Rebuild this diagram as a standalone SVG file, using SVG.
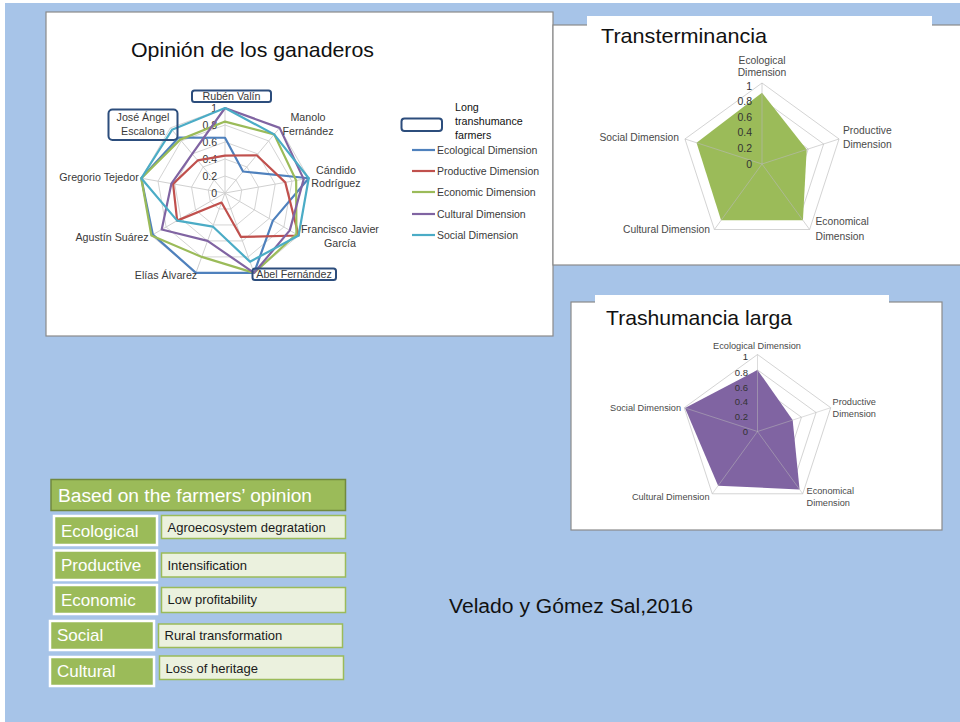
<svg xmlns="http://www.w3.org/2000/svg" width="960" height="722" viewBox="0 0 960 722">
<style>
.bg{fill:#a7c4e8}
.panel{fill:#fff;stroke:#8a8a8a;stroke-width:1.2}
.tab{fill:#fff}
.title{font-family:"Liberation Sans",Arial,sans-serif;font-size:21px;fill:#111}
.grid{fill:none;stroke:#d4d4d4;stroke-width:1}
.spoke{stroke:#d0d0d0;stroke-width:1}
.lbl{font-family:"Liberation Sans",Arial,sans-serif;font-size:10.7px;fill:#3a3a3a}
.lbs{font-family:"Liberation Sans",Arial,sans-serif;font-size:10.3px;fill:#4a4a4a}
.lbt{font-family:"Liberation Sans",Arial,sans-serif;font-size:9.2px;fill:#4a4a4a}
.tick{font-family:"Liberation Sans",Arial,sans-serif;font-size:10.5px;fill:#333;text-anchor:end}
.s{fill:none;stroke-width:2.2;stroke-linejoin:round}
.eco{stroke:#4f81bd}.pro{stroke:#c0504d}.ecn{stroke:#9bbb59}.cul{stroke:#8064a2}.soc{stroke:#4bacc6}
.nb{fill:none;stroke:#2c4d7c;stroke-width:2}
.mid{text-anchor:middle}.end{text-anchor:end}
.hdr{fill:#9bbb59;stroke:#71893f;stroke-width:1.5}
.cat{fill:#9bbb59;stroke:#fff;stroke-width:2.5}
.desc{fill:#ebf1de;stroke:#9bbb59;stroke-width:1.5}
.wt{font-family:"Liberation Sans",Arial,sans-serif;font-size:17px;fill:#fff}
.dt{font-family:"Liberation Sans",Arial,sans-serif;font-size:13px;fill:#1a1a1a}
</style>
<rect x="0" y="0" width="960" height="722" fill="#fff"/>
<rect class="bg" x="5" y="3" width="955" height="719"/>

<g id="chart-opinion">
  <rect class="panel" x="46" y="12" width="507" height="324"/>
  <text class="title" x="131" y="57" textLength="243" lengthAdjust="spacingAndGlyphs">Opinión de los ganaderos</text>
  <g id="grid9">
    <polygon class="grid" points="225,108 279.64,127.89 308.71,178.24 298.61,235.5 254.07,272.87 195.93,272.87 151.39,235.5 141.29,178.24 170.36,127.89"/>
    <polygon class="grid" points="225,125 268.71,140.91 291.97,181.19 283.89,227 248.26,256.9 201.74,256.9 166.11,227 158.03,181.19 181.29,140.91"/>
    <polygon class="grid" points="225,142 257.78,153.93 275.23,184.14 269.17,218.5 242.44,240.92 207.56,240.92 180.83,218.5 174.77,184.14 192.22,153.93"/>
    <polygon class="grid" points="225,159 246.86,166.96 258.48,187.1 254.44,210 236.63,224.95 213.37,224.95 195.56,210 191.52,187.1 203.14,166.96"/>
    <polygon class="grid" points="225,176 235.93,179.98 241.74,190.05 239.72,201.5 230.81,208.97 219.19,208.97 210.28,201.5 208.26,190.05 214.07,179.98"/>
    <path class="spoke" d="M225,193L225,108M225,193L279.64,127.89M225,193L308.71,178.24M225,193L298.61,235.5M225,193L254.07,272.87M225,193L195.93,272.87M225,193L151.39,235.5M225,193L141.29,178.24M225,193L170.36,127.89"/>
  </g>
  <g id="ticks9">
    <text class="tick" x="217" y="112">1</text>
    <text class="tick" x="217" y="129">0.8</text>
    <text class="tick" x="217" y="146">0.6</text>
    <text class="tick" x="217" y="163">0.4</text>
    <text class="tick" x="217" y="180">0.2</text>
    <text class="tick" x="217" y="197">0</text>
  </g>
  <g id="series9">
    <polygon class="s eco" points="225,137.75 243.03,171.51 308.71,178.24 272.85,220.63 254.07,272.87 195.93,272.87 152.86,234.65 141.29,178.24 178.56,137.66"/>
    <polygon class="s pro" points="225,155.6 256.69,155.24 285.27,182.37 298.61,235.5 240.99,236.93 221.51,202.58 177.15,220.63 173.1,183.85 197.68,160.44"/>
    <polygon class="s ecn" points="225,121.6 274.18,134.4 296.15,180.45 296.4,234.23 254.07,272.87 201.74,256.9 151.39,235.5 141.29,178.24 180.2,139.61"/>
    <polygon class="s cul" points="225,108 279.64,127.89 303.69,179.13 289.78,230.4 254.07,272.87 207.56,240.92 161.7,229.55 171.43,183.55 192.22,153.93"/>
    <polygon class="s soc" points="225,108 274.18,134.4 308.71,178.24 298.61,235.5 250,261.69 212.79,226.55 177.15,220.63 141.29,178.24 172,129.84"/>
  </g>
  <g id="n-ruben"><rect class="nb" x="192" y="90.5" width="79" height="11.5" rx="2.5"/><text class="lbl mid" x="231.5" y="100">Rubén Valín</text></g>
  <g id="n-jose"><rect class="nb" x="108.5" y="109.5" width="69" height="30.5" rx="4"/><text class="lbl mid" x="143" y="121">José Ángel</text><text class="lbl mid" x="143" y="135">Escalona</text></g>
  <g id="n-manolo"><text class="lbl mid" x="308" y="121">Manolo</text><text class="lbl mid" x="308" y="135">Fernández</text></g>
  <g id="n-candido"><text class="lbl mid" x="336" y="173.5">Cándido</text><text class="lbl mid" x="336" y="187">Rodríguez</text></g>
  <g id="n-francisco"><text class="lbl mid" x="340" y="232.5">Francisco Javier</text><text class="lbl mid" x="340" y="246.5">García</text></g>
  <g id="n-abel"><rect class="nb" x="252.5" y="268.5" width="83.5" height="11.5" rx="2.5"/><text class="lbl mid" x="294" y="278">Abel Fernández</text></g>
  <g id="n-elias"><text class="lbl mid" x="166" y="278.5">Elías Álvarez</text></g>
  <g id="n-agustin"><text class="lbl mid" x="112" y="240.5">Agustín Suárez</text></g>
  <g id="n-gregorio"><text class="lbl mid" x="99" y="180.5">Gregorio Tejedor</text></g>
  <g id="legend">
    <rect class="nb" x="401.5" y="118.5" width="40.5" height="12.5" rx="3"/>
    <text class="lbl" x="455" y="110.5" style="fill:#111">Long</text>
    <text class="lbl" x="455" y="125" style="fill:#111">transhumance</text>
    <text class="lbl" x="455" y="138.5" style="fill:#111">farmers</text>
    <line class="s eco" x1="412" y1="150" x2="435" y2="150"/><text class="lbl" x="437" y="153.5" style="font-size:10.5px">Ecological Dimension</text>
    <line class="s pro" x1="412" y1="171" x2="435" y2="171"/><text class="lbl" x="437" y="174.5" style="font-size:10.5px">Productive Dimension</text>
    <line class="s ecn" x1="412" y1="192" x2="435" y2="192"/><text class="lbl" x="437" y="195.5" style="font-size:10.5px">Economic Dimension</text>
    <line class="s cul" x1="412" y1="214" x2="435" y2="214"/><text class="lbl" x="437" y="217.5" style="font-size:10.5px">Cultural Dimension</text>
    <line class="s soc" x1="412" y1="235" x2="435" y2="235"/><text class="lbl" x="437" y="238.5" style="font-size:10.5px">Social Dimension</text>
  </g>
</g>

<g id="chart-transterminancia">
  <rect class="panel" x="553" y="25" width="412" height="240"/>
  <rect class="tab" x="587" y="16" width="345" height="10"/>
  <text class="title" x="601" y="43" textLength="166" lengthAdjust="spacingAndGlyphs">Transterminancia</text>
  <polygon class="grid" points="762,83 839.04,138.97 809.61,229.53 714.39,229.53 684.96,138.97"/>
  <polygon class="grid" points="762,99.2 823.63,143.98 800.09,216.42 723.91,216.42 700.37,143.98"/>
  <polygon class="grid" points="762,115.4 808.22,148.98 790.57,203.32 733.43,203.32 715.78,148.98"/>
  <polygon class="grid" points="762,131.6 792.82,153.99 781.04,190.21 742.96,190.21 731.18,153.99"/>
  <polygon class="grid" points="762,147.8 777.41,158.99 771.52,177.11 752.48,177.11 746.59,158.99"/>
  <polygon points="762,92.72 806.68,149.48 802.94,220.36 721.06,220.36 696.52,142.72" fill="#9bbb59"/>
  <path d="M762,164L762,83M762,164L839.04,138.97M762,164L809.61,229.53M762,164L714.39,229.53M762,164L684.96,138.97" stroke="#b9b9b9" stroke-opacity="0.6" stroke-width="1"/>
  <text class="tick" x="752" y="89.5">1</text>
  <text class="tick" x="752" y="105">0.8</text>
  <text class="tick" x="752" y="120.5">0.6</text>
  <text class="tick" x="752" y="136">0.4</text>
  <text class="tick" x="752" y="151.5">0.2</text>
  <text class="tick" x="752" y="167.5">0</text>
  <text class="lbs mid" x="762" y="64">Ecological</text>
  <text class="lbs mid" x="762" y="76">Dimension</text>
  <text class="lbs" x="843" y="133.5">Productive</text>
  <text class="lbs" x="843" y="147.5">Dimension</text>
  <text class="lbs" x="815.5" y="225">Economical</text>
  <text class="lbs" x="815.5" y="239.5">Dimension</text>
  <text class="lbs end" x="710" y="233">Cultural Dimension</text>
  <text class="lbs end" x="679" y="141">Social Dimension</text>
</g>

<g id="chart-trashumancia">
  <rect class="panel" x="571" y="302" width="371" height="228"/>
  <rect class="tab" x="595" y="295" width="294" height="8"/>
  <text class="title" x="606" y="325" textLength="186" lengthAdjust="spacingAndGlyphs">Trashumancia larga</text>
  <polygon class="grid" points="757.5,354.5 830.73,407.71 802.76,493.79 712.24,493.79 684.27,407.71"/>
  <polygon class="grid" points="757.5,369.9 816.08,412.47 793.71,481.33 721.29,481.33 698.92,412.47"/>
  <polygon class="grid" points="757.5,385.3 801.44,417.23 784.66,468.87 730.34,468.87 713.56,417.23"/>
  <polygon class="grid" points="757.5,400.7 786.79,421.98 775.6,456.42 739.4,456.42 728.21,421.98"/>
  <polygon class="grid" points="757.5,416.1 772.15,426.74 766.55,443.96 748.45,443.96 742.85,426.74"/>
  <polygon points="757.5,369.9 792.65,420.08 799.59,489.43 718.12,485.69 685,407.95" fill="#8064a2"/>
  <path d="M757.5,431.5L757.5,354.5M757.5,431.5L830.73,407.71M757.5,431.5L802.76,493.79M757.5,431.5L712.24,493.79M757.5,431.5L684.27,407.71" stroke="#b9b9b9" stroke-opacity="0.5" stroke-width="1"/>
  <text class="tick" x="748" y="360" style="font-size:9.5px">1</text>
  <text class="tick" x="748" y="375.5" style="font-size:9.5px">0.8</text>
  <text class="tick" x="748" y="390.5" style="font-size:9.5px">0.6</text>
  <text class="tick" x="748" y="405" style="font-size:9.5px">0.4</text>
  <text class="tick" x="748" y="420" style="font-size:9.5px">0.2</text>
  <text class="tick" x="748" y="435" style="font-size:9.5px">0</text>
  <text class="lbt mid" x="757" y="349">Ecological Dimension</text>
  <text class="lbt" x="832.5" y="405">Productive</text>
  <text class="lbt" x="832.5" y="417">Dimension</text>
  <text class="lbt" x="806.5" y="493.5">Economical</text>
  <text class="lbt" x="806.5" y="505.5">Dimension</text>
  <text class="lbt end" x="709.5" y="500">Cultural Dimension</text>
  <text class="lbt end" x="681" y="411">Social Dimension</text>
</g>

<g id="table">
  <g id="t-header"><rect class="hdr" x="51" y="479.5" width="294.5" height="31"/><text class="wt" x="58" y="502" style="font-size:18px" textLength="254" lengthAdjust="spacingAndGlyphs">Based on the farmers’ opinion</text></g>
  <g id="t-ecological"><rect class="cat" x="54" y="516" width="103" height="29"/><text class="wt" x="61" y="536.5">Ecological</text>
    <rect class="desc" x="161.5" y="515.5" width="184" height="23"/><text class="dt" x="167.5" y="532">Agroecosystem degratation</text></g>
  <g id="t-productive"><rect class="cat" x="54" y="550.5" width="103" height="29.5"/><text class="wt" x="61" y="571">Productive</text>
    <rect class="desc" x="161.5" y="553" width="184" height="24"/><text class="dt" x="167.5" y="569.5">Intensification</text></g>
  <g id="t-economic"><rect class="cat" x="54" y="585" width="103" height="29"/><text class="wt" x="61" y="605.5">Economic</text>
    <rect class="desc" x="161.5" y="587.5" width="184" height="25"/><text class="dt" x="167.5" y="604">Low profitability</text></g>
  <g id="t-social"><rect class="cat" x="50" y="621" width="104" height="29"/><text class="wt" x="57" y="641">Social</text>
    <rect class="desc" x="158.5" y="624" width="184" height="23.5"/><text class="dt" x="164.5" y="640">Rural transformation</text></g>
  <g id="t-cultural"><rect class="cat" x="50" y="657" width="104" height="29"/><text class="wt" x="57" y="677">Cultural</text>
    <rect class="desc" x="159.5" y="656" width="184" height="23.5"/><text class="dt" x="165.5" y="672.5">Loss of heritage</text></g>
</g>

<text id="citation" x="449" y="613" font-family="Liberation Sans, Arial, sans-serif" font-size="20" fill="#111" textLength="244" lengthAdjust="spacingAndGlyphs">Velado y Gómez Sal,2016</text>
</svg>
